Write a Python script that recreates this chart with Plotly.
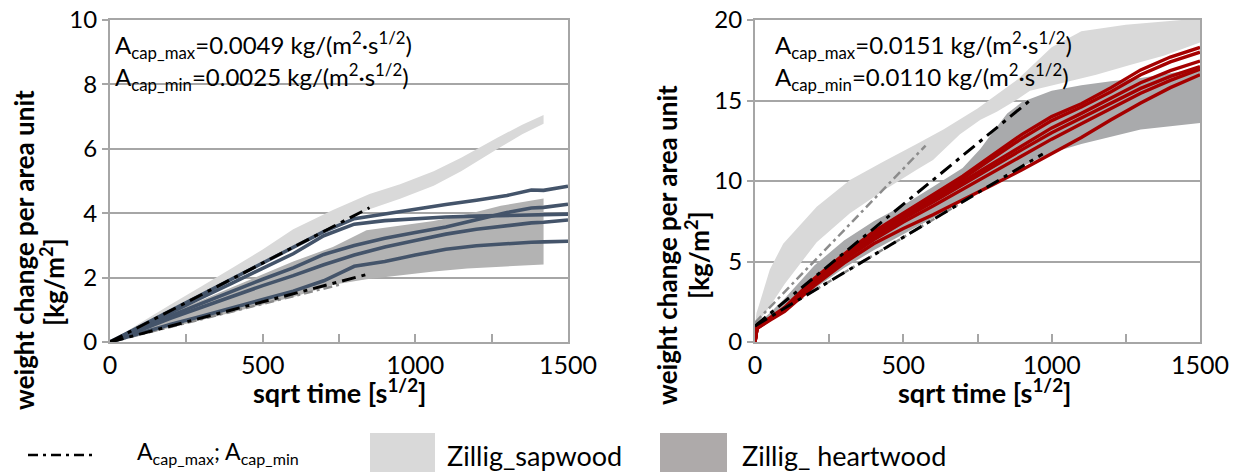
import plotly.graph_objects as go

# page body keeps an 8px margin, so the figure is sized to end at the window edge
OFF = 8
W, H = 1239 - OFF, 472 - OFF
FONT = "Lato"

# ---------------- LEFT PANEL DATA ----------------
sap_x_l = [0, 100, 200, 300, 400, 500, 600, 730, 850, 950, 1060, 1150, 1270, 1350, 1420]
sap_up_l = [0, 0.6, 1.17, 1.73, 2.3, 2.87, 3.5, 4.1, 4.6, 4.9, 5.3, 5.72, 6.35, 6.75, 7.05]
sap_lo_l = [0, 0.45, 0.95, 1.45, 1.95, 2.45, 2.98, 3.6, 4.12, 4.45, 4.85, 5.3, 6.0, 6.45, 6.78]

heart_x_l = [0, 200, 400, 600, 730, 840, 1060, 1170, 1280, 1420]
heart_up_l = [0, 0.9, 1.7, 2.5, 2.95, 3.47, 3.76, 3.97, 4.23, 4.46]
heart_lo_l = [0, 0.45, 0.92, 1.4, 1.78, 1.95, 2.19, 2.28, 2.34, 2.41]

x_blue = [0, 100, 200, 300, 400, 500, 600, 700, 800, 900, 1000, 1100, 1200, 1300, 1380, 1420, 1500]
blue_series = [
    [0, 0.49, 0.98, 1.47, 1.96, 2.45, 2.94, 3.43, 3.83, 3.98, 4.12, 4.27, 4.4, 4.55, 4.72, 4.71, 4.84],
    [0, 0.47, 0.93, 1.38, 1.83, 2.28, 2.74, 3.3, 3.66, 3.77, 3.83, 3.88, 3.91, 3.93, 3.95, 3.96, 3.97],
    [0, 0.42, 0.82, 1.2, 1.58, 1.95, 2.3, 2.72, 3.0, 3.22, 3.4, 3.57, 3.8, 4.02, 4.16, 4.18, 4.28],
    [0, 0.38, 0.74, 1.08, 1.42, 1.75, 2.06, 2.4, 2.7, 2.95, 3.15, 3.35, 3.5, 3.62, 3.7, 3.72, 3.79],
    [0, 0.28, 0.55, 0.8, 1.05, 1.32, 1.58, 1.9, 2.35, 2.5, 2.7, 2.88, 2.99, 3.06, 3.1, 3.11, 3.13],
]

acap_max_x_l = [0, 850]
acap_max_y_l = [0, 4.17]
acap_min_x_l = [0, 850]
acap_min_y_l = [0, 2.12]
grey_x_l = [0, 760]
grey_y_l = [0, 1.8]

# ---------------- RIGHT PANEL DATA ----------------
sap_up_x_r = [0, 5, 17, 50, 95, 208, 320, 432, 545, 635, 750, 885, 1000, 1100, 1250, 1500]
sap_up_r = [1.0, 1.8, 2.5, 4.5, 6.1, 8.4, 10.06, 11.2, 12.3, 13.2, 14.5, 16.3, 18.3, 19.3, 19.7, 20.1]
sap_lo_x_r = [0, 50, 100, 208, 320, 432, 545, 600, 691, 760, 815, 870, 927, 1039, 1150, 1264, 1380, 1500]
sap_lo_r = [1.0, 2.2, 3.6, 6.2, 8.0, 9.4, 10.7, 11.3, 12.9, 13.8, 14.3, 14.9, 15.6, 16.1, 16.6, 17.2, 17.8, 18.6]

heart_up_x_r = [0, 50, 100, 200, 300, 400, 500, 600, 700, 760, 800, 850, 900, 1000, 1100, 1200, 1300, 1400, 1500]
heart_up_r = [1.0, 1.8, 2.7, 4.75, 6.3, 7.5, 8.5, 9.65, 10.8, 12.0, 13.0, 14.2, 14.9, 15.6, 15.95, 16.2, 16.4, 16.7, 17.0]
heart_lo_x_r = [0, 100, 200, 300, 400, 500, 600, 700, 800, 900, 1000, 1100, 1200, 1300, 1400, 1500]
heart_lo_r = [1.0, 1.9, 3.3, 4.6, 5.7, 6.7, 7.7, 8.8, 9.8, 10.9, 11.75, 12.3, 12.75, 13.2, 13.4, 13.6]

x_red = [0, 7, 50, 100, 200, 300, 400, 500, 600, 700, 800, 900, 1000, 1100, 1200, 1300, 1400, 1500]
red_series = [
    [0, 0.95, 1.5, 2.15, 3.95, 5.45, 6.85, 8.0, 9.15, 10.3, 11.6, 12.9, 14.0, 14.8, 15.8, 16.9, 17.7, 18.3],
    [0, 0.9, 1.45, 2.1, 3.9, 5.4, 6.75, 7.9, 9.0, 10.15, 11.4, 12.65, 13.75, 14.6, 15.55, 16.6, 17.4, 18.0],
    [0, 0.9, 1.45, 2.05, 3.8, 5.3, 6.6, 7.8, 8.85, 9.95, 11.1, 12.2, 13.3, 14.2, 15.15, 16.1, 16.85, 17.45],
    [0, 0.85, 1.4, 2.0, 3.75, 5.2, 6.5, 7.65, 8.7, 9.8, 10.9, 11.95, 13.0, 13.9, 14.8, 15.75, 16.5, 17.1],
    [0, 0.85, 1.4, 1.98, 3.7, 5.1, 6.35, 7.45, 8.45, 9.5, 10.55, 11.6, 12.6, 13.55, 14.5, 15.45, 16.25, 16.95],
    [0, 0.85, 1.35, 1.9, 3.5, 4.9, 6.1, 7.05, 7.9, 8.8, 9.75, 10.7, 11.7, 12.7, 13.8, 14.85, 15.8, 16.6],
]

acap_max_x_r = [0, 930]
acap_max_y_r = [1.0, 15.05]
acap_min_x_r = [0, 970]
acap_min_y_r = [1.0, 11.68]
grey_up_x_r = [0, 575]
grey_up_y_r = [1.2, 12.2]
grey_lo_x_r = [0, 718]
grey_lo_y_r = [1.0, 8.9]

x_ticks = [0, 500, 1000, 1500]
y_ticks_l = [0, 2, 4, 6, 8, 10]
y_ticks_r = [0, 5, 10, 15, 20]

# ---------------- COLOURS ----------------
SAP = "#D9D9D9"
HEART_L = "#B3B3B3"
HEART_R = "#A9AAAC"
BLUE = "#44546A"
RED = "#A50000"
GRID = "#A6A6A6"
BLACKDASH = "14px,6px,4px,6px"
GREYDASH = "9px,4px,3px,4px"


def band(xu, yu, xl, yl, color, xa, ya):
    return go.Scatter(x=list(xu) + list(xl)[::-1], y=list(yu) + list(yl)[::-1],
                      fill="toself", fillcolor=color, mode="none", hoverinfo="skip",
                      showlegend=False, xaxis=xa, yaxis=ya)


def line(x, y, color, width, dash, xa, ya):
    return go.Scatter(x=x, y=y, mode="lines", line=dict(color=color, width=width, dash=dash),
                      showlegend=False, xaxis=xa, yaxis=ya, hoverinfo="skip")


fig = go.Figure()
# left
fig.add_trace(band(sap_x_l, sap_up_l, sap_x_l, sap_lo_l, SAP, "x", "y"))
fig.add_trace(band(heart_x_l, heart_up_l, heart_x_l, heart_lo_l, HEART_L, "x", "y"))
fig.add_trace(line(grey_x_l, grey_y_l, "#8C8C8C", 2.5, GREYDASH, "x", "y"))
for s in blue_series:
    fig.add_trace(line(x_blue, s, BLUE, 3.6, "solid", "x", "y"))
fig.add_trace(line(acap_max_x_l, acap_max_y_l, "black", 3, BLACKDASH, "x", "y"))
fig.add_trace(line(acap_min_x_l, acap_min_y_l, "black", 3, BLACKDASH, "x", "y"))
# right
fig.add_trace(band(sap_up_x_r, sap_up_r, sap_lo_x_r, sap_lo_r, SAP, "x2", "y2"))
fig.add_trace(band(heart_up_x_r, heart_up_r, heart_lo_x_r, heart_lo_r, HEART_R, "x2", "y2"))
fig.add_trace(line(grey_up_x_r, grey_up_y_r, "#8C8C8C", 2.5, GREYDASH, "x2", "y2"))
fig.add_trace(line(grey_lo_x_r, grey_lo_y_r, "#8C8C8C", 2.5, GREYDASH, "x2", "y2"))
for s in red_series:
    fig.add_trace(line(x_red, s, RED, 3.4, "solid", "x2", "y2"))
fig.add_trace(line(acap_max_x_r, acap_max_y_r, "black", 3, BLACKDASH, "x2", "y2"))
fig.add_trace(line(acap_min_x_r, acap_min_y_r, "black", 3, BLACKDASH, "x2", "y2"))


def px_x(p):
    # window pixel -> paper fraction
    return (p - OFF) / W


def px_y(p):
    return 1 - (p - OFF) / H


xaxis_common = dict(range=[0, 1500], tickvals=x_ticks, ticks="inside", ticklen=8, tickwidth=1.5,
                    tickcolor=GRID, showgrid=False, zeroline=False, showline=True, linecolor=GRID,
                    linewidth=2, mirror=True, tickfont=dict(family=FONT, size=25, color="black"),
                    minor=dict(dtick=250, tick0=0, ticks="inside", ticklen=8, tickcolor=GRID, tickwidth=1.5,
                               showgrid=False),
                    ticklabeloverflow="allow", automargin=False, fixedrange=True)
yaxis_common = dict(ticks="outside", ticklen=6, tickwidth=1.5, tickcolor=GRID, showgrid=True,
                    gridcolor=GRID, gridwidth=2, zeroline=False, showline=True, linecolor=GRID,
                    linewidth=2, mirror=True, tickfont=dict(family=FONT, size=24, color="black"),
                    ticklabeloverflow="allow", automargin=False, fixedrange=True)

fig.update_layout(
    width=W, height=H, margin=dict(l=0, r=0, t=0, b=0, pad=0, autoexpand=False),
    paper_bgcolor="white", plot_bgcolor="white", showlegend=False,
    font=dict(family=FONT, color="black"),
    xaxis=dict(domain=[px_x(110), px_x(568)], anchor="y", **xaxis_common),
    yaxis=dict(domain=[px_y(342), px_y(20)], anchor="x", range=[0, 10], tickvals=y_ticks_l, **yaxis_common),
    xaxis2=dict(domain=[px_x(755), px_x(1200)], anchor="y2", **xaxis_common),
    yaxis2=dict(domain=[px_y(342), px_y(20)], anchor="x2", range=[0, 20], tickvals=y_ticks_r, **yaxis_common),
)

ann = []


def text(x, y, t, size=20, bold=False, angle=0, xanchor="center", color="black"):
    ann.append(dict(x=px_x(x), y=px_y(y), xref="paper", yref="paper", text=("<b>%s</b>" % t if bold else t),
                    showarrow=False, textangle=angle, xanchor=xanchor, yanchor="middle",
                    font=dict(family=FONT, size=size, color=color)))


# in-plot annotations
text(113, 45, "A<sub>cap_max</sub>=0.0049 kg/(m<sup>2</sup>·s<sup>1/2</sup>)", size=24, xanchor="left")
text(113, 77, "A<sub>cap_min</sub>=0.0025 kg/(m<sup>2</sup>·s<sup>1/2</sup>)", size=24, xanchor="left")
text(773, 45, "A<sub>cap_max</sub>=0.0151 kg/(m<sup>2</sup>·s<sup>1/2</sup>)", size=24, xanchor="left")
text(773, 77, "A<sub>cap_min</sub>=0.0110 kg/(m<sup>2</sup>·s<sup>1/2</sup>)", size=24, xanchor="left")

# axis titles
text(24, 250, "weight change per area unit", size=26, bold=True, angle=-90)
text(52, 282, "[kg/m<sup>2</sup>]", size=26, bold=True, angle=-90)
text(667, 245, "weight change per area unit", size=26, bold=True, angle=-90)
text(697, 255, "[kg/m<sup>2</sup>]", size=26, bold=True, angle=-90)
text(340, 391, "sqrt time [s<sup>1/2</sup>]", size=27, bold=True)
text(985, 391, "sqrt time [s<sup>1/2</sup>]", size=27, bold=True)

# legend
text(135, 452, "A<sub>cap_max</sub>; A<sub>cap_min</sub>", size=23, xanchor="left")
text(445, 455, "Zillig_sapwood", size=27, xanchor="left")
text(740, 455, "Zillig_ heartwood", size=27, xanchor="left")
fig.update_layout(annotations=ann)

shapes = [
    dict(type="line", xref="paper", yref="paper", x0=px_x(28), x1=px_x(96), y0=px_y(455), y1=px_y(455),
         line=dict(color="black", width=2.5, dash="10px,5px,3px,5px")),
    dict(type="rect", xref="paper", yref="paper", x0=px_x(370), x1=px_x(435), y0=px_y(472), y1=px_y(433),
         fillcolor="#D9D9D9", line=dict(width=0)),
    dict(type="rect", xref="paper", yref="paper", x0=px_x(660), x1=px_x(727), y0=px_y(472), y1=px_y(433),
         fillcolor="#AEAAAA", line=dict(width=0)),
]
fig.update_layout(shapes=shapes)

fig.write_html("out.html")
